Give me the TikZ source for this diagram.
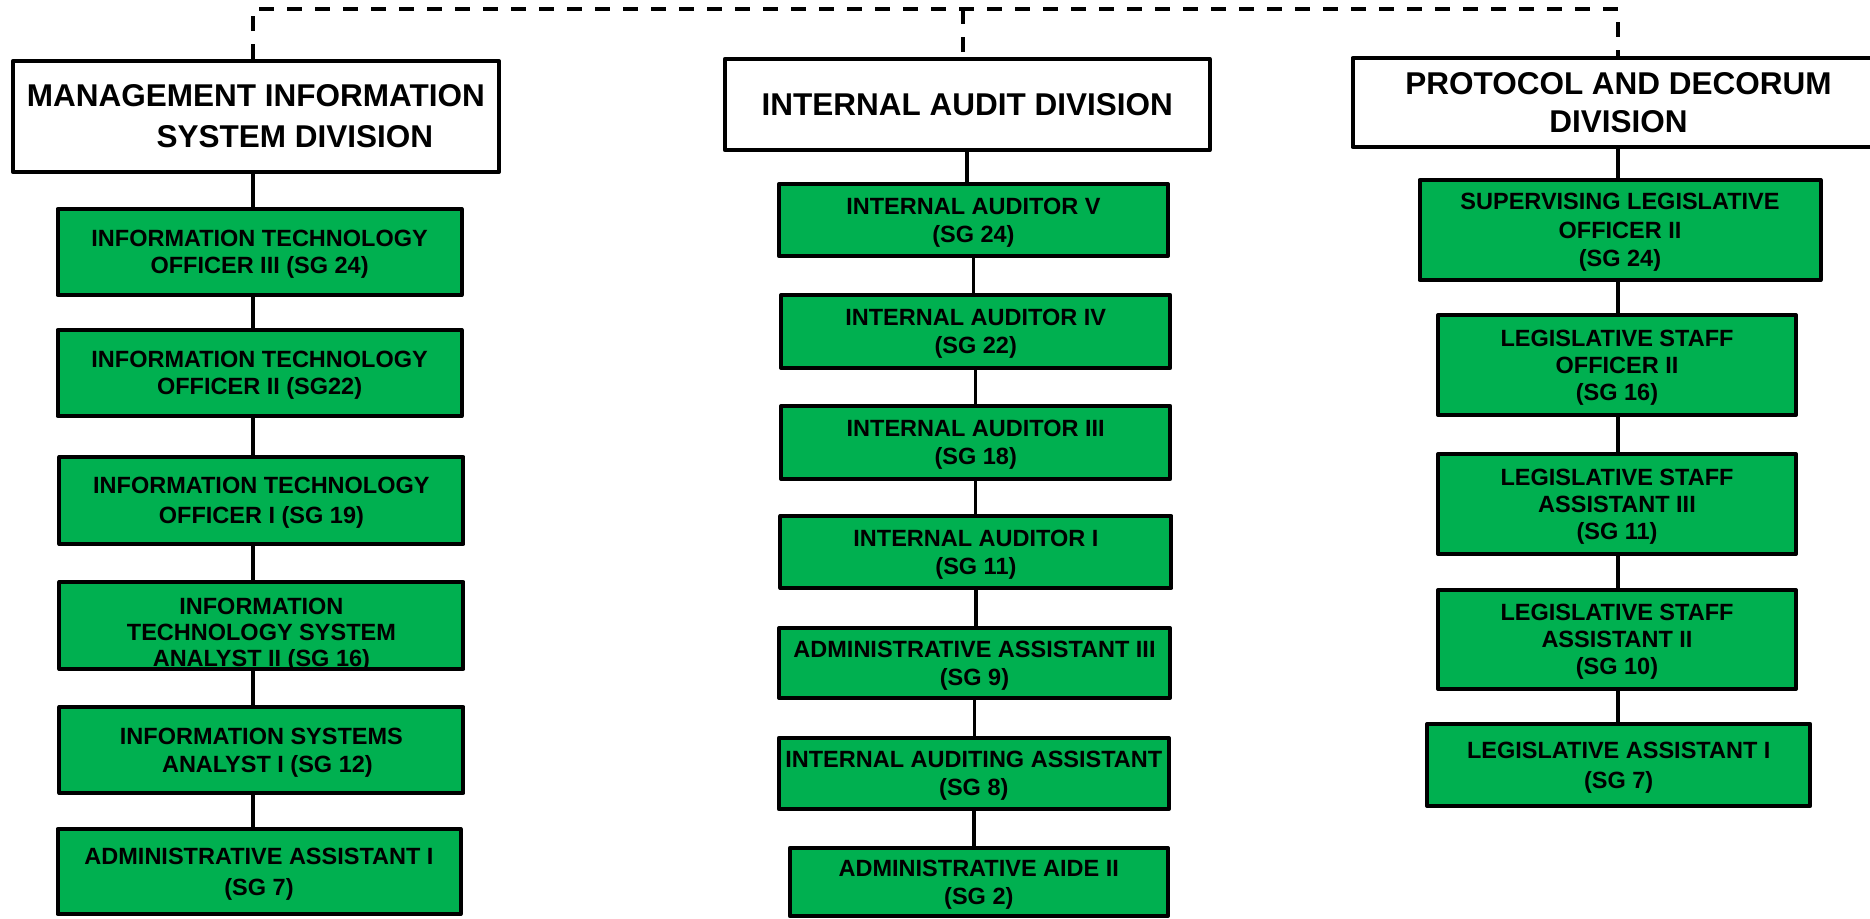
\documentclass[tikz,border=0pt]{standalone}
\usepackage{fontspec}
\setmainfont{Liberation Sans}
\definecolor{rankgreen}{RGB}{0,176,80}
\tikzset{
  divbox/.style = {draw, line width=4pt, fill=white, align=center, inner sep=2pt, text depth=0pt,
                   font=\bfseries\fontsize{31.5}{40}\selectfont},
  rankbox/.style = {draw, line width=4pt, fill=rankgreen, align=center, inner sep=2pt, text depth=0pt,
                    font=\bfseries\fontsize{23.5}{28}\selectfont},
  link/.style = {line width=3.5pt},
  busline/.style = {line width=4pt, dash pattern=on 15pt off 13pt}
}
\begin{document}
\begin{tikzpicture}[x=1pt, y=-1pt, line join = round]
\clip (0,0) rectangle (1870,918);
\useasboundingbox (0,0) rectangle (1870,918);
%Cột 1: Management Information System Division
\node[divbox, minimum width=486pt, minimum height=111pt,
      font=\bfseries\fontsize{31.5}{41}\selectfont] (misHead) at (255.9,116.5)
      {MANAGEMENT INFORMATION\\\hspace*{78pt}SYSTEM DIVISION};
\node[rankbox, minimum width=404pt, minimum height=86pt,
      font=\bfseries\fontsize{23.5}{27}\selectfont] (mis1) at (259.6,252)
      {INFORMATION TECHNOLOGY\\OFFICER III (SG 24)};
\node[rankbox, minimum width=404pt, minimum height=86pt,
      font=\bfseries\fontsize{23.5}{27}\selectfont] (mis2) at (259.6,373)
      {INFORMATION TECHNOLOGY\\OFFICER II (SG22)};
\node[rankbox, minimum width=404pt, minimum height=87pt,
      font=\bfseries\fontsize{23.5}{30}\selectfont] (mis3) at (261.4,500.5)
      {INFORMATION TECHNOLOGY\\OFFICER I (SG 19)};
\node[rankbox, minimum width=404pt, minimum height=87pt] (mis4) at (261.4,625.5) {};
\node[align=center, font=\bfseries\fontsize{23.5}{26}\selectfont]
      (mis4text) at ([yshift=-9pt]mis4.center)
      {INFORMATION\\TECHNOLOGY SYSTEM\\ANALYST II (SG 16)};
\node[rankbox, minimum width=404pt, minimum height=86pt,
      font=\bfseries\fontsize{23.5}{28}\selectfont] (mis5) at (261.4,750)
      {INFORMATION SYSTEMS\\\hspace*{12pt}ANALYST I (SG 12)};
\node[rankbox, minimum width=403pt, minimum height=85pt,
      font=\bfseries\fontsize{23.5}{31}\selectfont] (mis6) at (259,871.5)
      {ADMINISTRATIVE ASSISTANT I\\(SG 7)};
%Cột 2: Internal Audit Division
\node[divbox, minimum width=485pt, minimum height=91pt] (iadHead) at (967.2,104.5)
      {INTERNAL AUDIT DIVISION};
\node[rankbox, minimum width=389pt, minimum height=72pt] (iad1) at (973.4,220)
      {INTERNAL AUDITOR V\\(SG 24)};
\node[rankbox, minimum width=389pt, minimum height=73pt] (iad2) at (975.7,331.5)
      {INTERNAL AUDITOR IV\\(SG 22)};
\node[rankbox, minimum width=389pt, minimum height=73pt] (iad3) at (975.7,442.5)
      {INTERNAL AUDITOR III\\(SG 18)};
\node[rankbox, minimum width=391pt, minimum height=72pt] (iad4) at (975.9,552)
      {INTERNAL AUDITOR I\\(SG 11)};
\node[rankbox, minimum width=391pt, minimum height=70pt] (iad5) at (974.5,663)
      {ADMINISTRATIVE ASSISTANT III\\(SG 9)};
\node[rankbox, minimum width=390pt, minimum height=71pt, inner sep=0pt] (iad6) at (973.8,773.5)
      {INTERNAL AUDITING ASSISTANT\\(SG 8)};
\node[rankbox, minimum width=378pt, minimum height=68pt] (iad7) at (978.8,882)
      {ADMINISTRATIVE AIDE II\\(SG 2)};
%Cột 3: Protocol and Decorum Division
\node[divbox, minimum width=532pt, minimum height=89pt,
      font=\bfseries\fontsize{31.5}{38}\selectfont] (pddHead) at (1618.5,102.5)
      {PROTOCOL AND DECORUM\\DIVISION};
\node[rankbox, minimum width=401pt, minimum height=100pt,
      font=\bfseries\fontsize{23.5}{28.5}\selectfont] (pdd1) at (1620,230)
      {SUPERVISING LEGISLATIVE\\OFFICER II\\(SG 24)};
\node[rankbox, minimum width=358pt, minimum height=100pt,
      font=\bfseries\fontsize{23.5}{27}\selectfont] (pdd2) at (1617,365)
      {LEGISLATIVE STAFF\\OFFICER II\\(SG 16)};
\node[rankbox, minimum width=358pt, minimum height=100pt,
      font=\bfseries\fontsize{23.5}{27}\selectfont] (pdd3) at (1617,504)
      {LEGISLATIVE STAFF\\ASSISTANT III\\(SG 11)};
\node[rankbox, minimum width=358pt, minimum height=99pt,
      font=\bfseries\fontsize{23.5}{27}\selectfont] (pdd4) at (1617,639.5)
      {LEGISLATIVE STAFF\\ASSISTANT II\\(SG 10)};
\node[rankbox, minimum width=383pt, minimum height=82pt,
      font=\bfseries\fontsize{23.5}{30}\selectfont] (pdd5) at (1618.7,765)
      {LEGISLATIVE ASSISTANT I\\(SG 7)};
%Đường nối
\coordinate (misx) at (253,0);
\coordinate (iadx) at (963,0);
\coordinate (pddx) at (1618,0);
\coordinate (bus) at (0,9);
\draw[busline] (misHead.north -| misx) -- (bus -| misx) -- (bus -| pddx) -- (pddHead.north -| pddx);
\draw[busline] (bus -| iadx) -- (iadHead.north -| iadx);
\foreach \a/\b in {misHead/mis1, mis1/mis2, mis2/mis3, mis3/mis4, mis4/mis5, mis5/mis6}
  \draw[link] (\a.south -| misx) -- (\b.north -| misx);
\foreach \a/\b in {iadHead/iad1, iad1/iad2, iad2/iad3, iad3/iad4, iad4/iad5, iad5/iad6, iad6/iad7}
  \draw[link] (\a.south) -- (\a.south |- \b.north);
\foreach \a/\b in {pddHead/pdd1, pdd1/pdd2, pdd2/pdd3, pdd3/pdd4, pdd4/pdd5}
  \draw[link] (\a.south -| pddx) -- (\b.north -| pddx);
\end{tikzpicture}
\end{document}
